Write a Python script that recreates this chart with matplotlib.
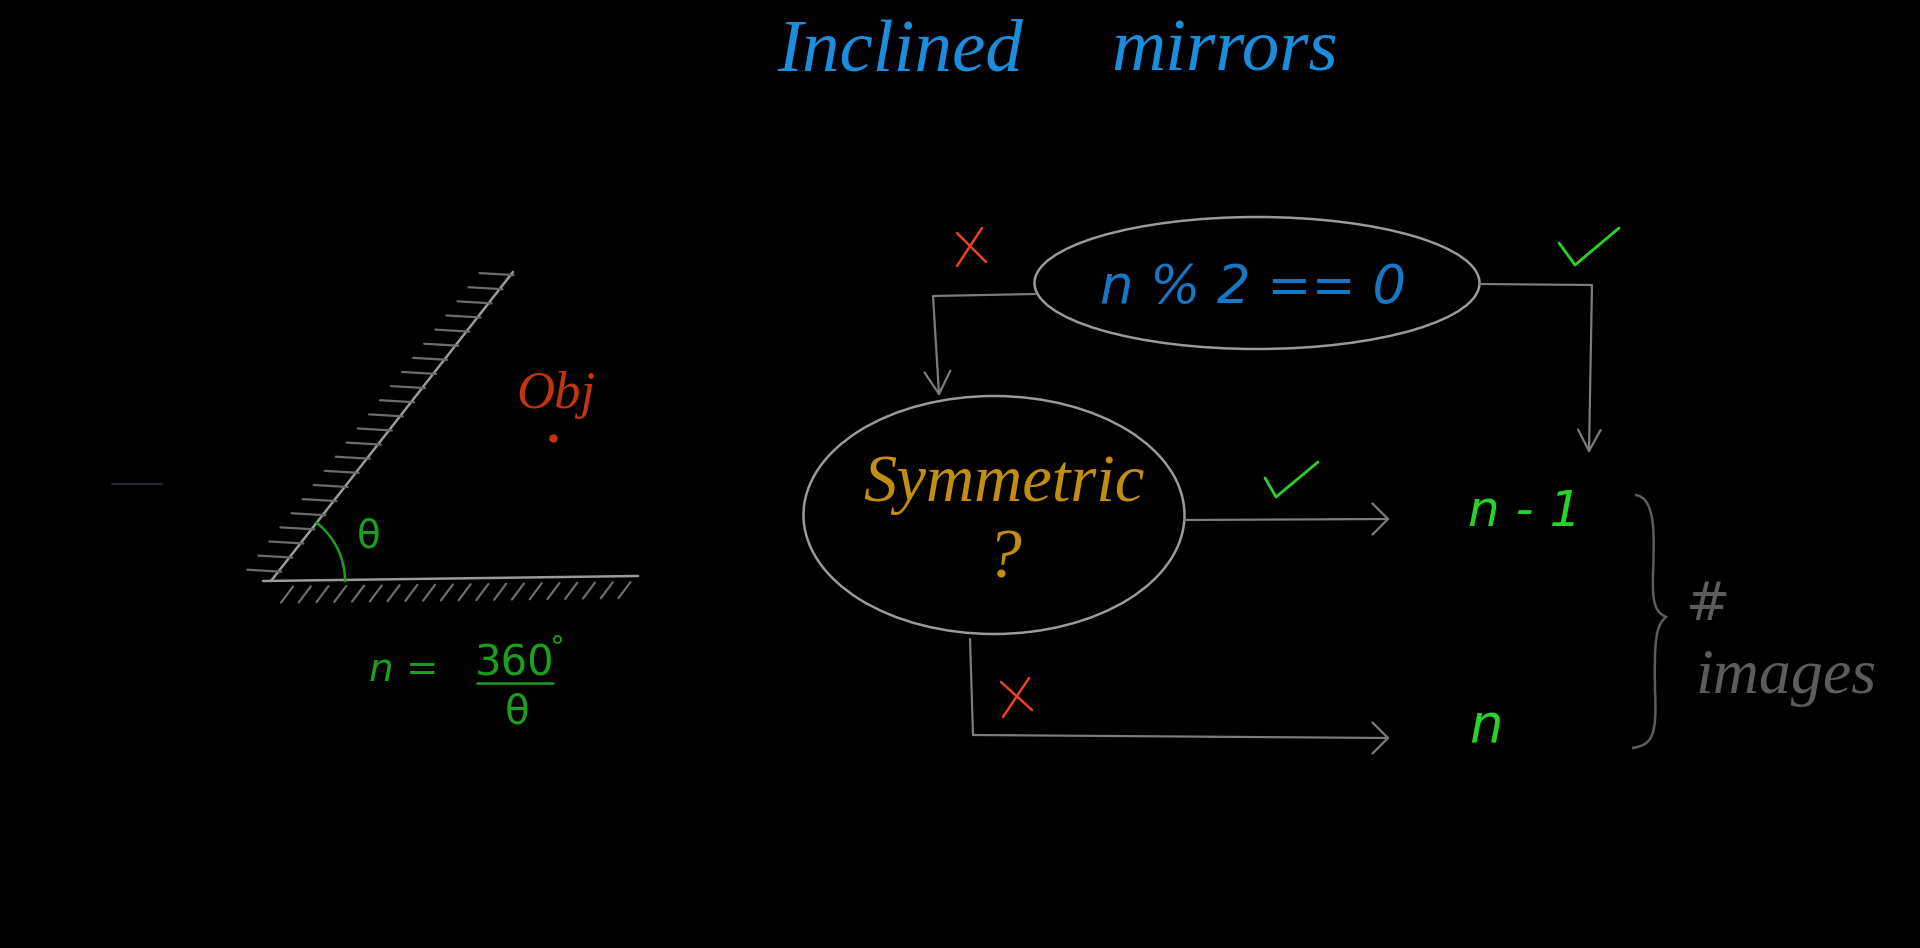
import numpy as np
import matplotlib
matplotlib.use('Agg')
import matplotlib.pyplot as plt
from matplotlib.patches import Ellipse, PathPatch
from matplotlib.path import Path

W, H = 1920, 948

# text labels
TITLE_WORDS = ["Inclined", "mirrors"]
CONDITION = "n % 2 == 0"
QUESTION = ["Symmetric", "?"]
RESULTS = ["n - 1", "n"]
BRACE_LABEL = ["#", "images"]
OBJ_LABEL = "Obj"
FORMULA = ["n =", "360", "θ"]
ANGLE = "θ"

# colours
BG = "black"
TITLE_BLUE = "#1b8ddc"
COND_BLUE = "#1677c4"
GOLD = "#c18e12"
GREEN = "#27d327"
DARK_GREEN = "#1e9e1e"
RED = "#e8461c"
OBJ_RED = "#c2340e"
LINE_GRAY = "#9a9a9a"
ARROW_GRAY = "#7c7c7c"
HATCH_GRAY = "#6c6c6c"
TEXT_GRAY = "#5c5c5c"

# mirror geometry (pixels)
VERTEX = (271, 581)
INCL_END = (513, 272)
FLOOR = [(263, 581), (638, 576)]
N_HATCH_INCL = 22
N_HATCH_FLOOR = 20
ANGLE_DEG = 52

SERIF = 'Liberation Serif'
SANS = 'DejaVu Sans'

fig = plt.figure(figsize=(W / 100, H / 100), dpi=100, facecolor=BG)
ax = fig.add_axes([0, 0, 1, 1], facecolor=BG)
ax.set_xlim(0, W); ax.set_ylim(H, 0); ax.axis('off')


def put(s, xc, yb, size, color, family, style='italic'):
    return ax.text(xc, yb, s, color=color, family=family, style=style,
                   ha='center', va='baseline', fontsize=size)


def seg(pts, color, lw=1.6, **kw):
    pts = np.array(pts, dtype=float)
    ax.plot(pts[:, 0], pts[:, 1], color=color, lw=lw, solid_capstyle='round', **kw)


def arrow_head(tip, direction, color, size=22, spread=38):
    d = np.radians(direction)
    for s in (-1, 1):
        a = d + np.pi + s * np.radians(spread)
        seg([tip, (tip[0] + size * np.cos(a), tip[1] + size * np.sin(a))], color)


# title
put(TITLE_WORDS[0], 900, 70, 54, TITLE_BLUE, SERIF)
put(TITLE_WORDS[1], 1225, 70, 54, TITLE_BLUE, SERIF)

# faint stroke on the left
seg([(112, 484), (162, 484)], '#23233a', lw=1.5)

# inclined mirror
seg([VERTEX, INCL_END], LINE_GRAY, lw=1.8)
for f in np.linspace(0.03, 0.99, N_HATCH_INCL):
    px = VERTEX[0] + f * (INCL_END[0] - VERTEX[0])
    py = VERTEX[1] + f * (INCL_END[1] - VERTEX[1])
    seg([(px + 3, py), (px - 31, py - 2)], HATCH_GRAY, lw=1.6)

# floor mirror
seg(FLOOR, LINE_GRAY, lw=1.8)
for f in np.linspace(0.08, 0.98, N_HATCH_FLOOR):
    px = FLOOR[0][0] + f * (FLOOR[1][0] - FLOOR[0][0])
    py = FLOOR[0][1] + f * (FLOOR[1][1] - FLOOR[0][1])
    seg([(px, py + 6), (px - 12, py + 22)], HATCH_GRAY, lw=1.6)

# angle arc and theta
t = np.radians(np.linspace(0, ANGLE_DEG, 40))
ax.plot(VERTEX[0] + 74 * np.cos(t), VERTEX[1] - 74 * np.sin(t), color=DARK_GREEN, lw=1.8)
put(ANGLE, 369, 548, 28, DARK_GREEN, SANS, style='normal')

# object
put(OBJ_LABEL, 556, 408, 38, OBJ_RED, SERIF)
ax.plot([553], [438], 'o', color=OBJ_RED, ms=5)

# n = 360 / theta
put(FORMULA[0], 404, 681, 28, DARK_GREEN, SANS)
put(FORMULA[1], 515, 676, 30, DARK_GREEN, SANS, style='normal')
ax.plot([557], [639], 'o', mfc='none', mec=DARK_GREEN, ms=5, mew=1.3)
seg([(477, 683), (553, 683)], DARK_GREEN, lw=1.8)
put(FORMULA[2], 517, 724, 29, DARK_GREEN, SANS, style='normal')

# condition ellipse
ax.add_patch(Ellipse((1257, 283), 445, 132, fill=False, ec=LINE_GRAY, lw=1.8))
put(CONDITION, 1253, 303, 38, COND_BLUE, SANS)

# false branch -> symmetric
seg([(1035, 294), (933, 296), (939, 394)], ARROW_GRAY)
arrow_head((939, 394), 86, ARROW_GRAY, size=26, spread=30)
seg([(957, 233), (986, 262)], RED, lw=1.8)
seg([(982, 228), (957, 266)], RED, lw=1.8)

# true branch -> n - 1
seg([(1480, 284), (1592, 285), (1589, 451)], ARROW_GRAY)
arrow_head((1589, 451), 91, ARROW_GRAY, size=24, spread=28)
seg([(1559, 243), (1575, 265), (1619, 228)], GREEN, lw=2)

# symmetric ellipse
ax.add_patch(Ellipse((994, 515), 381, 238, fill=False, ec=LINE_GRAY, lw=1.8))
put(QUESTION[0], 1004, 501, 48, GOLD, SERIF)
put(QUESTION[1], 1003, 578, 50, GOLD, SERIF)

# yes -> n - 1
seg([(1184, 520), (1388, 519)], ARROW_GRAY)
arrow_head((1388, 519), 0, ARROW_GRAY, size=22, spread=45)
seg([(1265, 478), (1276, 497), (1318, 462)], GREEN, lw=2)
put(RESULTS[0], 1525, 526, 36, GREEN, SANS)

# no -> n
seg([(970, 639), (973, 735), (1388, 738)], ARROW_GRAY)
arrow_head((1388, 738), 0, ARROW_GRAY, size=22, spread=45)
seg([(1001, 682), (1032, 710)], RED, lw=1.8)
seg([(1029, 678), (1003, 717)], RED, lw=1.8)
put(RESULTS[1], 1486, 742, 38, GREEN, SANS)

# brace
verts = [(1635, 495), (1657, 497), (1654, 540), (1653, 575),
         (1652, 605), (1656, 612), (1666, 617),
         (1656, 625), (1654, 640), (1655, 690),
         (1657, 735), (1653, 745), (1632, 748)]
codes = [Path.MOVETO] + [Path.CURVE4] * 12
ax.add_patch(PathPatch(Path(verts, codes), fill=False, ec=TEXT_GRAY, lw=1.8))
put(BRACE_LABEL[0], 1708, 620, 38, TEXT_GRAY, SANS, style='normal')
put(BRACE_LABEL[1], 1786, 693, 46, TEXT_GRAY, SERIF)

fig.savefig('out.png', dpi=100, facecolor=BG)
